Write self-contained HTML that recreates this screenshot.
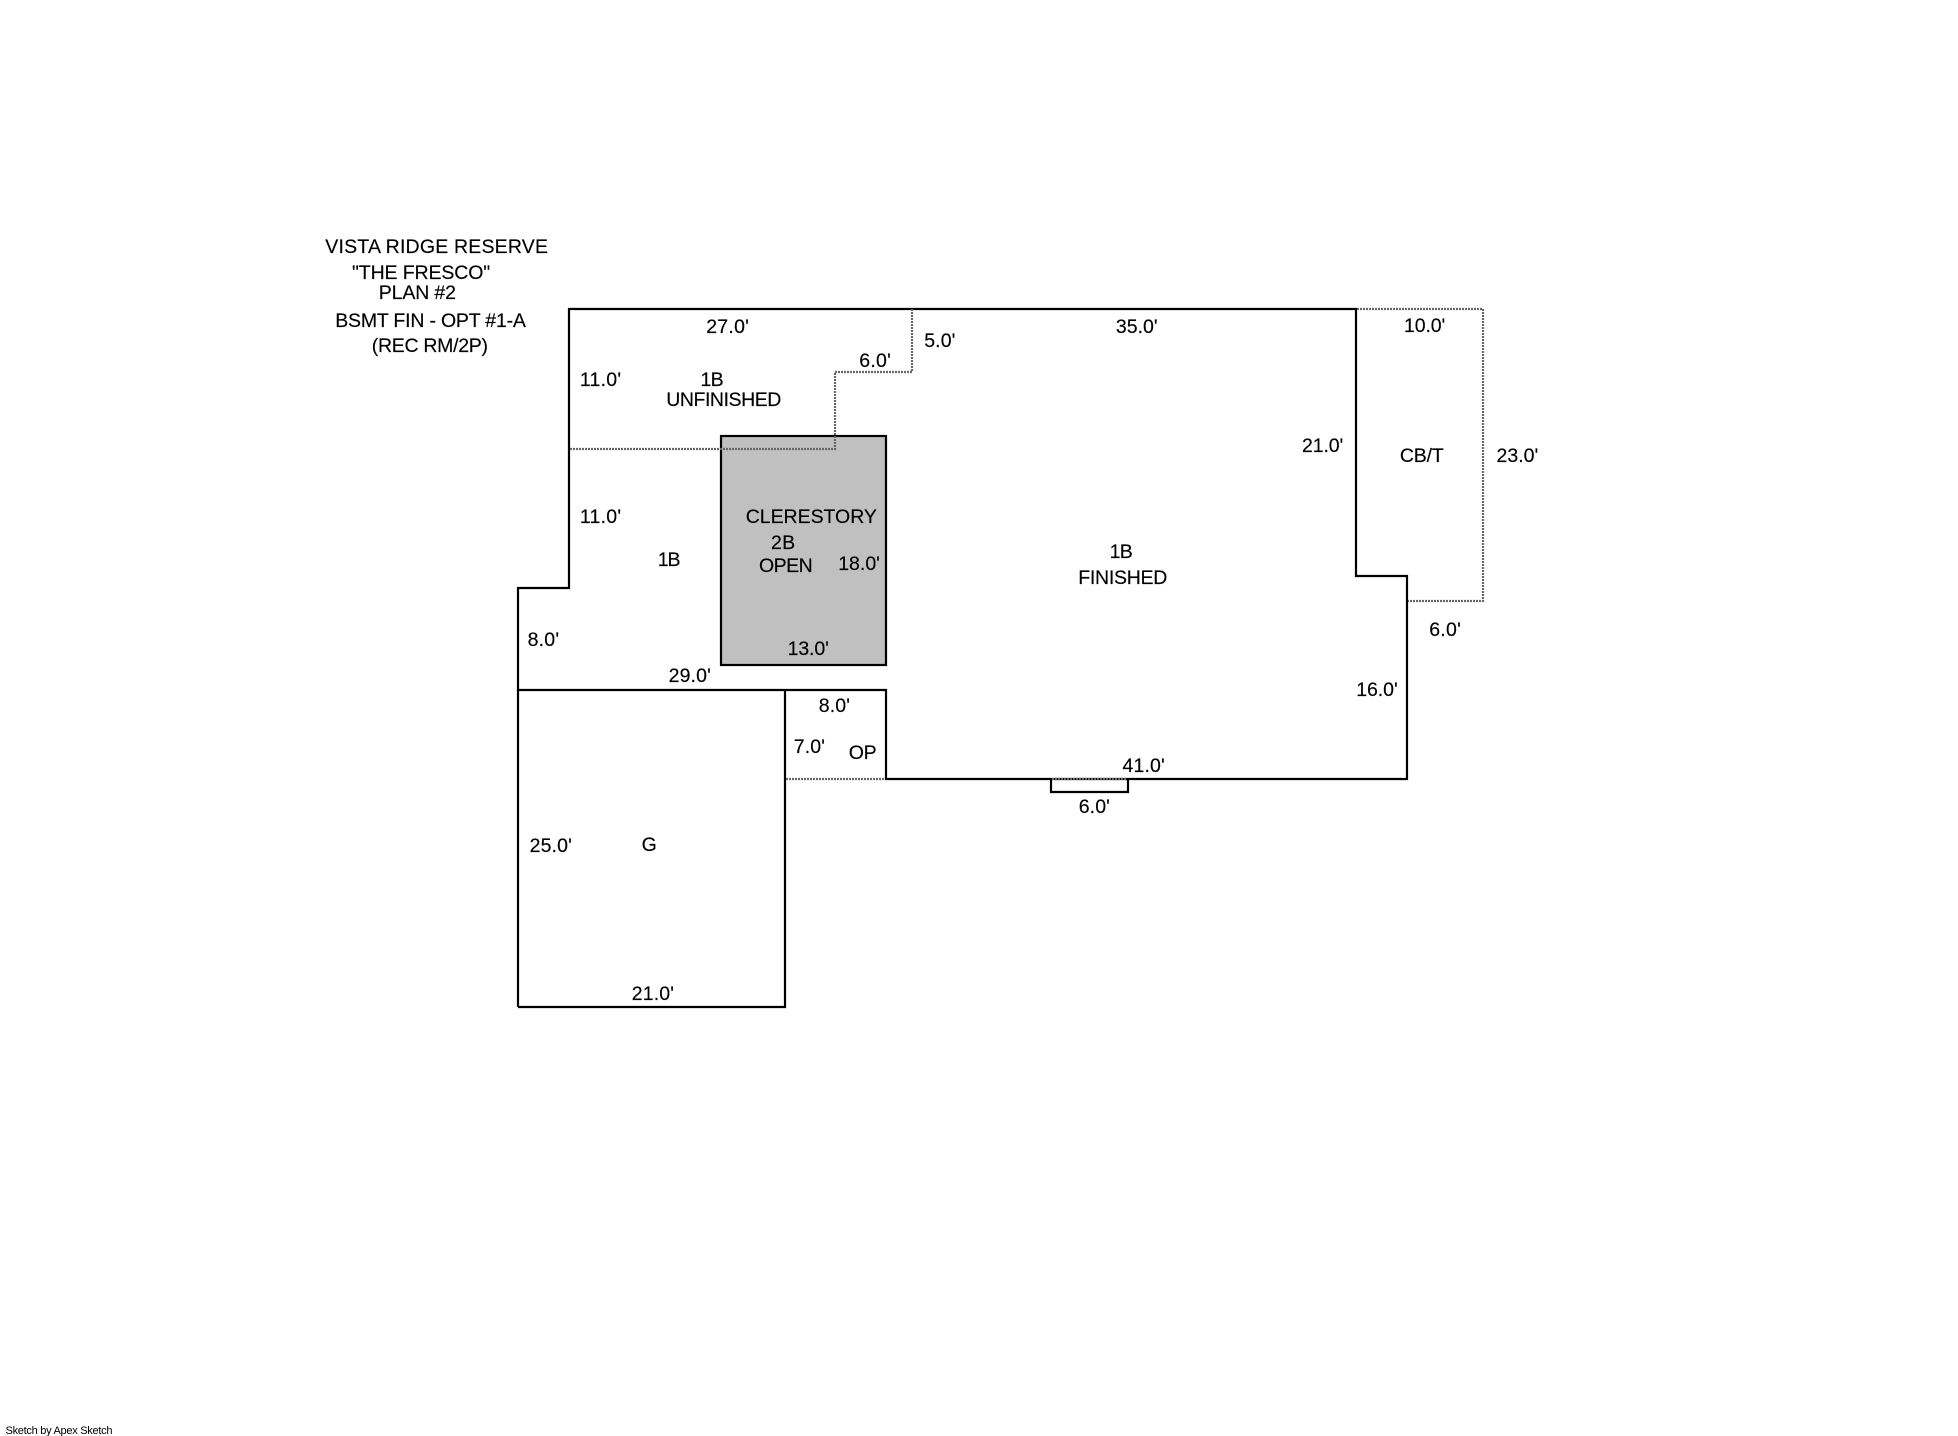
<!DOCTYPE html>
<html><head><meta charset="utf-8"><style>
html,body{margin:0;padding:0;background:#fff}
svg{display:block}
text{font-family:"Liberation Sans",Arial,sans-serif;font-size:19.5px;fill:#000;stroke:#000;stroke-width:.15px}
</style></head><body>
<svg width="1958" height="1436" viewBox="0 0 1958 1436" xmlns="http://www.w3.org/2000/svg">
<rect width="1958" height="1436" fill="#fff"/>
<rect x="721" y="436" width="165" height="229" fill="#c0c0c0" stroke="#000" stroke-width="2.2"/>
<g fill="none" stroke="#000" stroke-width="2.2">
<polyline points="569,449 569,309 1356,309 1356,576 1407,576 1407,779 886,779 886,690 518,690 518,588 569,588 569,449"/>
<line x1="518" y1="690" x2="518" y2="1007"/>
<polyline points="518,1007 785,1007 785,690"/>
<polyline points="1051,779 1051,792 1128,792 1128,779"/>
</g>
<g fill="none" stroke="#666" stroke-width="2.2" stroke-dasharray="2 1">
<polyline points="570,449 835,449 835,372 912,372 912,309"/>
<polyline points="1357,309 1483,309 1483,601 1408,601"/>
<line x1="786" y1="779" x2="885" y2="779"/>
<line x1="1052" y1="779" x2="1127" y2="779"/>
</g>
<text x="325.3" y="253" textLength="222.7">VISTA RIDGE RESERVE</text>
<text x="352" y="279" textLength="138.2">"THE FRESCO"</text>
<text x="378.8" y="299" textLength="77.2">PLAN #2</text>
<text x="335.2" y="327" textLength="190.7">BSMT FIN - OPT #1-A</text>
<text x="371.8" y="352" textLength="116.2">(REC RM/2P)</text>
<text x="706.2" y="333" textLength="42.7">27.0'</text>
<text x="924.2" y="347" textLength="31.2">5.0'</text>
<text x="859.2" y="367" textLength="31.7">6.0'</text>
<text x="579.9" y="386" textLength="41.2">11.0'</text>
<text x="700.5" y="386" textLength="23.2">1B</text>
<text x="666.2" y="406" textLength="115.2">UNFINISHED</text>
<text x="579.9" y="523" textLength="41.2">11.0'</text>
<text x="745.7" y="523" textLength="131.2">CLERESTORY</text>
<text x="771" y="549" textLength="24.2">2B</text>
<text x="759" y="572" textLength="53.7">OPEN</text>
<text x="838.2" y="570" textLength="41.7">18.0'</text>
<text x="657.8" y="566" textLength="22.7">1B</text>
<text x="527.6" y="646" textLength="31.5">8.0'</text>
<text x="787.6" y="655" textLength="41.2">13.0'</text>
<text x="668.6" y="682" textLength="42.2">29.0'</text>
<text x="1115.9" y="333" textLength="41.7">35.0'</text>
<text x="1404" y="332" textLength="41.2">10.0'</text>
<text x="1302" y="452" textLength="41.2">21.0'</text>
<text x="1399.9" y="462" textLength="43.9">CB/T</text>
<text x="1496.5" y="462" textLength="41.7">23.0'</text>
<text x="1109.6" y="558" textLength="23.2">1B</text>
<text x="1078.2" y="584" textLength="89.2">FINISHED</text>
<text x="1429.2" y="636" textLength="31.6">6.0'</text>
<text x="1356.2" y="696" textLength="41.5">16.0'</text>
<text x="1122.5" y="772" textLength="42.2">41.0'</text>
<text x="818.8" y="712" textLength="31.2">8.0'</text>
<text x="793.8" y="753" textLength="31.2">7.0'</text>
<text x="848.8" y="759" textLength="27.9">OP</text>
<text x="1078.7" y="813" textLength="31.2">6.0'</text>
<text x="529.6" y="852" textLength="42.2">25.0'</text>
<text x="641.6" y="851" textLength="15.5">G</text>
<text x="631.8" y="1000" textLength="42.2">21.0'</text>
<text x="5.5" y="1434" textLength="107" style="font-size:11px;stroke-width:0">Sketch by Apex Sketch</text>
</svg>
</body></html>
